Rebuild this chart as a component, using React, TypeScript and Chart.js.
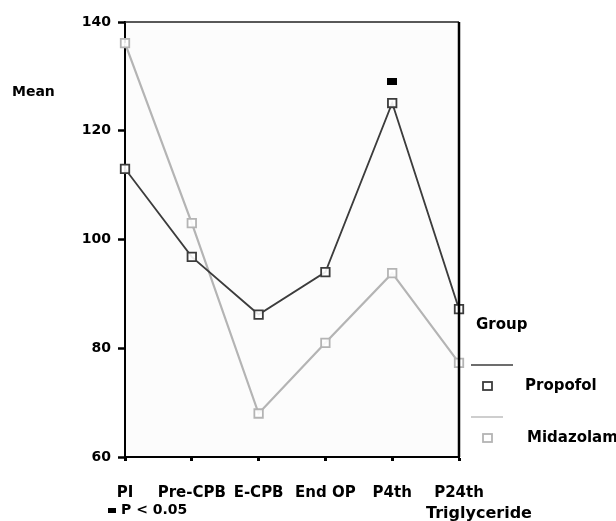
import React, { useEffect, useRef } from "react";
import { Chart, registerables } from "chart.js";
Chart.register(...registerables);

const categories = ["PI", "Pre-CPB", "E-CPB", "End OP", "P4th", "P24th"];
const propofol = [113.0, 96.8, 86.2, 94.0, 125.1, 87.2];
const midazolam = [136.1, 103.0, 68.0, 81.0, 93.8, 77.3];
const significance = [null, null, null, null, 129, null];
const seriesNames = ["Propofol", "Midazolam"];
const yMin = 60;
const yMax = 140;
const yStep = 20;
const yTitle = "Mean";
const xTitle = "Triglyceride";
const legendTitle = "Group";
const sigNote = "P < 0.05";

const FONT = "'DejaVu Sans', 'Liberation Sans', Arial, sans-serif";
const darkColor = "#3c3c3c";
const lightColor = "#b4b4b4";

function makeSigMarker() {
  const c = document.createElement("canvas");
  c.width = 10;
  c.height = 7;
  const ctx = c.getContext("2d")!;
  ctx.fillStyle = "#000";
  ctx.fillRect(0, 0, 10, 7);
  return c;
}

const decorPlugin = {
  id: "decor",
  beforeDraw(chart: any) {
    const { ctx, chartArea } = chart;
    ctx.save();
    ctx.fillStyle = "#ffffff";
    ctx.fillRect(0, 0, chart.width, chart.height);
    ctx.fillStyle = "#fcfcfc";
    ctx.fillRect(chartArea.left, chartArea.top, chartArea.right - chartArea.left, chartArea.bottom - chartArea.top);
    ctx.restore();
  },
  afterDraw(chart: any) {
    const { ctx, chartArea } = chart;
    ctx.save();
    ctx.strokeStyle = "#222";
    ctx.lineWidth = 1.5;
    ctx.beginPath();
    ctx.moveTo(chartArea.left, chartArea.top);
    ctx.lineTo(chartArea.right, chartArea.top);
    ctx.stroke();
    ctx.lineWidth = 2.5;
    ctx.strokeStyle = "#000";
    ctx.beginPath();
    ctx.moveTo(chartArea.right, chartArea.top);
    ctx.lineTo(chartArea.right, chartArea.bottom);
    ctx.stroke();

    ctx.fillStyle = "#000";
    ctx.textBaseline = "middle";
    ctx.font = `bold 14px ${FONT}`;
    ctx.textAlign = "left";
    ctx.fillText(yTitle, 12, 92);

    ctx.font = `bold 16px ${FONT}`;
    ctx.textAlign = "center";
    ctx.fillText(xTitle, 479, 514);

    ctx.font = `bold 14px ${FONT}`;
    ctx.textAlign = "left";
    ctx.fillRect(108, 508, 8, 5);
    ctx.fillText(sigNote, 121, 510);

    ctx.font = `bold 15px ${FONT}`;
    ctx.fillText(legendTitle, 476, 325);
    const colors = [darkColor, lightColor];
    const lineY = [365, 417];
    const lineEnd = [513, 503];
    const markY = [386, 438];
    const textX = [525, 527];
    for (let i = 0; i < seriesNames.length; i++) {
      ctx.strokeStyle = colors[i];
      ctx.lineWidth = 1.3;
      ctx.beginPath();
      ctx.moveTo(471, lineY[i]);
      ctx.lineTo(lineEnd[i], lineY[i]);
      ctx.stroke();
      ctx.lineWidth = 1.8;
      ctx.strokeRect(483, markY[i] - 4, 9, 8);
      ctx.fillStyle = "#000";
      ctx.fillText(seriesNames[i], textX[i], markY[i]);
    }
    ctx.restore();
  },
};

export default function App() {
  const ref = useRef<HTMLCanvasElement | null>(null);
  useEffect(() => {
    if (!ref.current) return;
    const chart = new Chart(ref.current, {
      type: "line",
      data: {
        labels: categories,
        datasets: [
          {
            label: seriesNames[0],
            data: propofol,
            borderColor: darkColor,
            borderWidth: 1.8,
            pointStyle: "rect",
            pointRadius: 6,
            pointBorderWidth: 1.8,
            pointBorderColor: darkColor,
            pointBackgroundColor: "rgba(255,255,255,0.9)",
            tension: 0,
          },
          {
            label: seriesNames[1],
            data: midazolam,
            borderColor: lightColor,
            borderWidth: 2.2,
            pointStyle: "rect",
            pointRadius: 6,
            pointBorderWidth: 1.8,
            pointBorderColor: lightColor,
            pointBackgroundColor: "rgba(255,255,255,0.9)",
            tension: 0,
          },
          {
            label: "sig",
            data: significance as any,
            showLine: false,
            pointStyle: makeSigMarker() as any,
            pointRadius: 5,
          },
        ],
      },
      options: {
        animation: false,
        responsive: false,
        layout: { padding: { top: 22, right: 157, left: 0, bottom: 0 } },
        plugins: { legend: { display: false }, tooltip: { enabled: false } },
        scales: {
          x: {
            offset: false,
            grid: { display: true, drawOnChartArea: false, tickLength: 4, tickWidth: 3, tickColor: "#000" },
            border: { color: "#000", width: 2 },
            ticks: { color: "#000", font: { family: FONT, weight: "bold", size: 15 }, padding: 23, maxRotation: 0, autoSkip: false },
            afterFit: (s: any) => { s.height = 64; },
          },
          y: {
            min: yMin,
            max: yMax,
            grid: { display: true, drawOnChartArea: false, tickLength: 7, tickWidth: 2.5, tickColor: "#000" },
            border: { color: "#000", width: 2 },
            ticks: { stepSize: yStep, color: "#000", font: { family: FONT, weight: "bold", size: 14 }, padding: 7 },
            afterFit: (s: any) => { s.width = 125; },
          },
        },
      },
      plugins: [decorPlugin],
    });
    return () => chart.destroy();
  }, []);
  return (
    <div style={{ position: "absolute", left: 0, top: 0, width: 616, height: 521 }}>
      <canvas ref={ref} width={616} height={521} style={{ width: 616, height: 521 }} />
    </div>
  );
}
